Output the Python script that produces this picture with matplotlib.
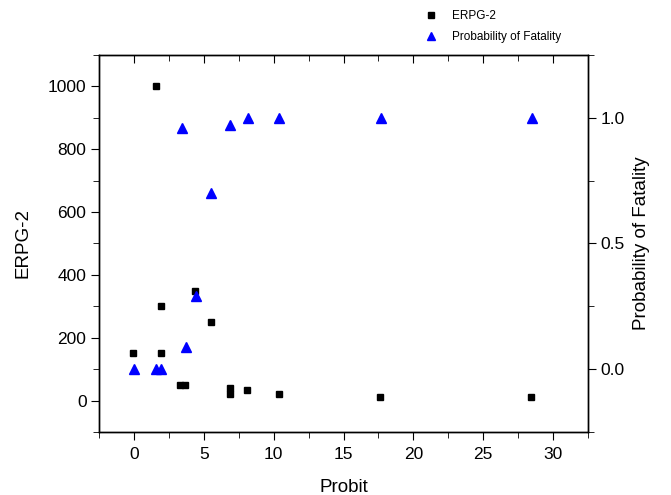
import matplotlib.pyplot as plt
import numpy as np

plt.rcParams['font.family'] = ['Liberation Sans', 'DejaVu Sans']

# ERPG-2 vs probit (left axis)
erpg_x = [-0.05, 1.6, 1.95, 1.95, 3.3, 3.65, 4.4, 5.5, 6.9, 6.9, 8.1, 10.35, 17.6, 28.4]
erpg_y = [150, 1000, 300, 150, 50, 50, 350, 250, 20, 40, 33, 20, 10, 10]

# probability of fatality vs probit (right axis)
prob_x = [0.0, 1.6, 1.95, 3.45, 3.7, 4.45, 5.5, 6.9, 8.15, 10.4, 17.65, 28.5]
prob_y = [0.0, 0.0, 0.0, 0.96, 0.09, 0.29, 0.70, 0.97, 1.0, 1.0, 1.0, 1.0]

fig = plt.figure(figsize=(6.71, 4.95), dpi=100)
ax = fig.add_axes([99 / 671, 1 - 432 / 495, (588 - 99) / 671, (432 - 55) / 495])
ax2 = ax.twinx()

h1, = ax.plot(erpg_x, erpg_y, ls='none', marker='s', ms=5, color='black',
              label='ERPG-2')
h2, = ax2.plot(prob_x, prob_y, ls='none', marker='^', ms=7.5, color='#0000ff',
               label='Probability of Fatality')

ax.set_xlim(-2.5, 32.5)
ax.set_ylim(-100, 1100)
ax2.set_ylim(-0.25, 1.25)

ax.set_xticks(np.arange(0, 31, 5))
ax.set_xticks(np.arange(-2.5, 33, 2.5), minor=True)
ax.set_yticks(np.arange(0, 1001, 200))
ax.set_yticks(np.arange(-100, 1101, 100), minor=True)
ax2.set_yticks([0.0, 0.5, 1.0])
ax2.set_yticks(np.arange(-0.25, 1.26, 0.25), minor=True)

for a in (ax, ax2):
    for s in a.spines.values():
        s.set_linewidth(1.0)

ax.tick_params(axis='x', which='both', direction='out', top=True,
               labelsize=12.5, pad=5)
ax.tick_params(axis='x', which='major', length=6)
ax.tick_params(axis='x', which='minor', length=4)
ax.tick_params(axis='y', which='major', direction='out', length=6,
               labelsize=12.5, pad=3)
ax.tick_params(axis='y', which='minor', direction='out', length=4)
ax2.tick_params(axis='y', which='major', direction='out', length=6,
                labelsize=12.5, pad=3)
ax2.tick_params(axis='y', which='minor', direction='out', length=4)

# top ticks point into the frame
for t in ax.xaxis.get_major_ticks() + ax.xaxis.get_minor_ticks():
    t.tick2line.set_marker(3)

ax.set_xlabel('Probit', fontsize=13.5, labelpad=12)
ax.set_ylabel('ERPG-2', fontsize=13.5, labelpad=12)
ax2.set_ylabel('Probability of Fatality', fontsize=13.5, labelpad=6)

fig.legend(handles=[h1, h2], loc='upper left', bbox_to_anchor=(414 / 671, 1.0),
           frameon=False, fontsize=8.5, handlelength=1.2, handletextpad=1.2,
           labelspacing=0.75, borderaxespad=0.45, markerscale=0.8)

fig.savefig('out.png', dpi=100)
